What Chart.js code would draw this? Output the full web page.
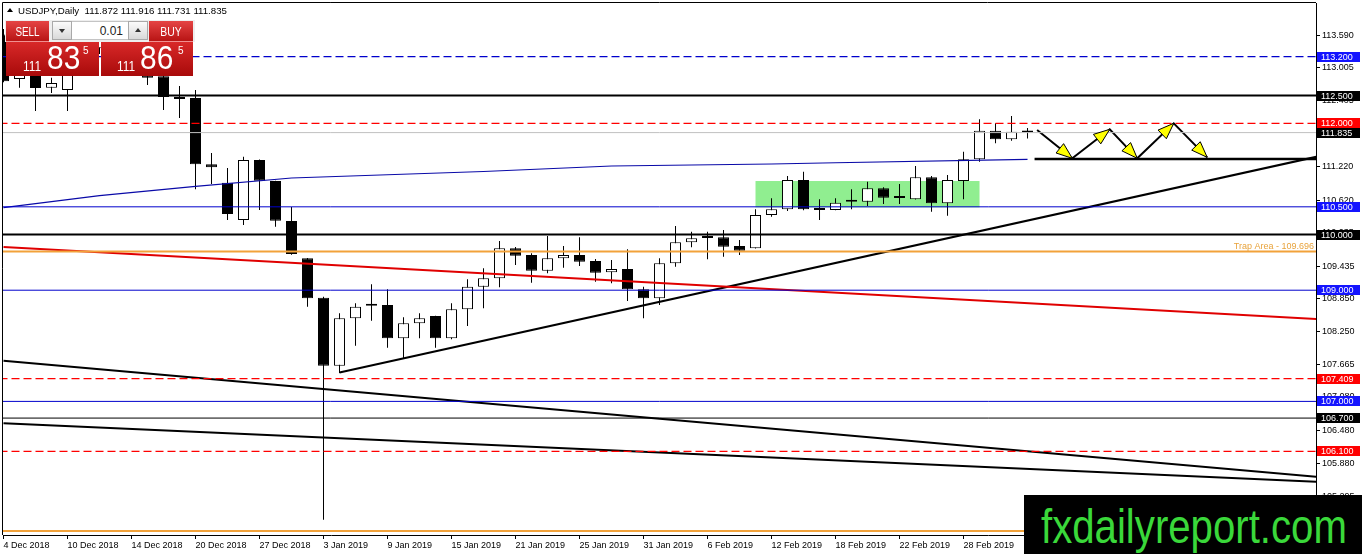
<!DOCTYPE html>
<html>
<head>
<meta charset="utf-8">
<title>USDJPY, Daily</title>
<script src="https://cdn.jsdelivr.net/npm/chart.js@4.4.1/dist/chart.umd.min.js"></script>
<style>
  html, body { margin: 0; padding: 0; background: #fff; }
  #wrap { position: relative; width: 1362px; height: 554px; overflow: hidden; font-family: "Liberation Sans", Arial, sans-serif; }
  #chart { position: absolute; left: 0; top: 0; }
  .box { position: absolute; box-sizing: border-box; }
  .t { position: absolute; line-height: 1; white-space: pre; color: #fff; }
  .red { background: linear-gradient(#e54444, #b81414); }
  .redp { background: linear-gradient(#d82828, #a80a0a); }
  .spin { background: linear-gradient(#fbfbfb, #d9d9d9); border: 1px solid #a9a9a9; }
</style>
</head>
<body>
<div id="wrap">
  <canvas id="chart" width="1362" height="554"></canvas>

  <!-- chart caption -->
  <div class="box" style="left:7px;top:8px;width:0;height:0;border-left:3px solid transparent;border-right:3px solid transparent;border-bottom:4px solid #000"></div>
  <div class="t" id="caption" style="left:18px;top:6px;font-size:9.7px;color:#000"></div>

  <!-- one click trading panel -->
  <div class="box" style="left:5px;top:20px;width:190px;height:22px;background:#eeeeee"></div>
  <div class="box red" style="left:6px;top:21px;width:43px;height:21px;border-bottom:1px solid #f09090"></div>
  <div class="t" style="left:6px;top:25px;width:43px;text-align:center;font-size:13px;transform:scaleX(0.76)">SELL</div>
  <div class="box spin" style="left:52px;top:21px;width:20px;height:19px"></div>
  <div class="box" style="left:59px;top:29px;width:0;height:0;border-left:3px solid transparent;border-right:3px solid transparent;border-top:4px solid #333"></div>
  <div class="box" style="left:72px;top:21px;width:56px;height:19px;background:#fff;border-top:1px solid #c4c4c4;border-bottom:1px solid #c4c4c4"></div>
  <div class="t" style="left:72px;top:25px;width:51px;text-align:right;font-size:12px;color:#222">0.01</div>
  <div class="box spin" style="left:128px;top:21px;width:20px;height:19px"></div>
  <div class="box" style="left:135px;top:28px;width:0;height:0;border-left:3px solid transparent;border-right:3px solid transparent;border-bottom:4px solid #333"></div>
  <div class="box red" style="left:149px;top:21px;width:44px;height:21px;border-bottom:1px solid #f09090"></div>
  <div class="t" style="left:149px;top:25px;width:44px;text-align:center;font-size:13px;transform:scaleX(0.8)">BUY</div>

  <div class="box redp" style="left:6px;top:42px;width:93px;height:34px"></div>
  <div class="t" style="left:23px;top:59px;font-size:14px;transform:scaleX(0.85);transform-origin:left">111</div>
  <div class="t" style="left:47px;top:42px;font-size:32.5px;transform:scaleX(0.92);transform-origin:left">83</div>
  <div class="t" style="left:83px;top:46px;font-size:10px">5</div>
  <div class="box redp" style="left:101px;top:42px;width:92px;height:34px"></div>
  <div class="t" style="left:117px;top:59px;font-size:14px;transform:scaleX(0.85);transform-origin:left">111</div>
  <div class="t" style="left:140px;top:42px;font-size:32.5px;transform:scaleX(0.92);transform-origin:left">86</div>
  <div class="t" style="left:178px;top:46px;font-size:10px">5</div>

  <!-- watermark -->
  <div class="box" style="left:1024px;top:495px;width:338px;height:59px;background:#000"></div>
  <div class="t" style="left:1041px;top:502px;font-size:49px;color:#3ad83a;transform:scaleX(0.82);transform-origin:left">fxdailyreport.com</div>
</div>

<script>
// daily bars, 4 Dec 2018 - 6 Mar 2019
const candleDates = [
  '4 Dec 2018', '5 Dec 2018', '6 Dec 2018', '7 Dec 2018', '10 Dec 2018', '11 Dec 2018', '12 Dec 2018', '13 Dec 2018',
  '14 Dec 2018', '17 Dec 2018', '18 Dec 2018', '19 Dec 2018', '20 Dec 2018', '21 Dec 2018', '24 Dec 2018', '26 Dec 2018',
  '27 Dec 2018', '28 Dec 2018', '31 Dec 2018', '2 Jan 2019', '3 Jan 2019', '4 Jan 2019', '7 Jan 2019', '8 Jan 2019',
  '9 Jan 2019', '10 Jan 2019', '11 Jan 2019', '14 Jan 2019', '15 Jan 2019', '16 Jan 2019', '17 Jan 2019', '18 Jan 2019',
  '21 Jan 2019', '22 Jan 2019', '23 Jan 2019', '24 Jan 2019', '25 Jan 2019', '28 Jan 2019', '29 Jan 2019', '30 Jan 2019',
  '31 Jan 2019', '1 Feb 2019', '4 Feb 2019', '5 Feb 2019', '6 Feb 2019', '7 Feb 2019', '8 Feb 2019', '11 Feb 2019',
  '12 Feb 2019', '13 Feb 2019', '14 Feb 2019', '15 Feb 2019', '18 Feb 2019', '19 Feb 2019', '20 Feb 2019', '21 Feb 2019',
  '22 Feb 2019', '25 Feb 2019', '26 Feb 2019', '27 Feb 2019', '28 Feb 2019', '1 Mar 2019', '4 Mar 2019', '5 Mar 2019',
  '6 Mar 2019'
];

const openP = [
  113.60, 112.80, 113.15, 112.64, 112.60, 113.30, 113.35, 113.55, 113.60, 113.38,
  112.85, 112.475, 112.457, 111.265, 110.934, 110.263, 111.342, 110.964, 110.245, 109.574,
  108.865, 107.642, 108.495, 108.73, 108.734, 108.135, 108.405, 108.536, 108.135, 108.657,
  109.063, 109.214, 109.754, 109.633, 109.351, 109.574, 109.633, 109.525, 109.322, 109.381,
  109.016, 108.854, 109.484, 109.862, 109.95, 109.951, 109.795, 109.754, 110.353, 110.455,
  110.982, 110.466, 110.443, 110.592, 110.592, 110.833, 110.67, 110.635, 111.031, 110.563,
  110.964, 111.354, 111.869, 111.714, 111.872
];
const highP = [
  113.70, 113.30, 113.25, 112.82, 113.40, 113.50, 113.70, 113.70, 113.70, 113.45,
  112.95, 112.673, 112.60, 111.468, 111.198, 111.401, 111.35, 110.97, 110.497, 109.58,
  108.883, 108.585, 108.764, 109.106, 109.016, 108.513, 108.585, 108.54, 108.764, 109.196,
  109.394, 109.885, 109.777, 109.664, 109.975, 109.795, 109.951, 109.561, 109.543, 109.736,
  109.063, 109.574, 110.155, 110.052, 110.052, 110.083, 109.903, 110.455, 110.653, 111.054,
  111.131, 110.635, 110.653, 110.815, 110.951, 110.851, 110.91, 111.234, 111.054, 111.072,
  111.491, 112.074, 112.002, 112.133, 111.916
];
const lowP = [
  112.74, 112.64, 112.223, 112.547, 112.223, 113.00, 113.25, 113.40, 113.30, 112.691,
  112.241, 112.097, 110.815, 110.91, 110.263, 110.173, 110.443, 110.142, 109.64, 108.703,
  104.87, 107.511, 108.002, 108.452, 107.966, 107.775, 108.135, 107.966, 108.117, 108.356,
  108.675, 109.052, 109.453, 109.135, 109.304, 109.405, 109.435, 109.153, 109.124, 108.806,
  108.495, 108.734, 109.423, 109.772, 109.556, 109.603, 109.633, 109.75, 110.322, 110.425,
  110.44, 110.263, 110.44, 110.455, 110.514, 110.55, 110.55, 110.63, 110.412, 110.34,
  110.635, 111.311, 111.642, 111.689, 111.731
];
const closeP = [
  112.76, 113.15, 112.637, 112.727, 113.30, 113.35, 113.55, 113.60, 113.38, 112.82,
  112.475, 112.44, 111.265, 111.21, 110.37, 111.342, 110.97, 110.25, 109.651, 108.854,
  107.642, 108.495, 108.703, 108.72, 108.135, 108.405, 108.495, 108.135, 108.657, 109.063,
  109.214, 109.754, 109.621, 109.351, 109.574, 109.633, 109.513, 109.315, 109.381, 109.016,
  108.854, 109.484, 109.862, 109.934, 109.94, 109.783, 109.71, 110.353, 110.455, 110.982,
  110.455, 110.443, 110.574, 110.623, 110.833, 110.664, 110.66, 111.031, 110.563, 110.982,
  111.354, 111.869, 111.714, 111.851, 111.835
];

// axis ticks
const tickIdx = [0, 4, 8, 12, 16, 20, 24, 28, 32, 36, 40, 44, 48, 52, 56, 60];
const yTicks = [113.590, 113.005, 112.405, 111.820, 111.220, 110.620, 110.035, 109.435,
  108.850, 108.250, 107.665, 107.080, 106.480, 105.880, 105.295];

// horizontal levels and price tags
const levelPrices = [113.2, 112.5, 112.0, 111.835, 110.5, 110.0, 109.696, 109.0, 107.409, 107.0, 106.7, 106.1, 104.67];
const tagPrices = [113.2, 112.5, 112.0, 111.835, 110.5, 110.0, 109.0, 107.409, 107.0, 106.7, 106.1];
const trapLabel = 'Trap Area - 109.696';

// moving average
const maIdx = [0, 6, 12, 18, 30, 38, 48, 52, 64];
const maVal = [110.484, 110.70, 110.869, 111.018, 111.135, 111.234, 111.27, 111.293, 111.354];

// trend lines
const redTrendX = [0, 82.06], redTrendY = [109.777, 108.482];
const upTrendX = [21, 82.06], upTrendY = [107.52, 111.40];
const downAX = [0, 82.06], downAY = [107.732, 105.646];
const downBX = [0, 82.06], downBY = [106.606, 105.556];

// projected path
const zigX = [64.6, 66.8, 69.14, 70.86, 73.14, 75.23];
const zigY = [111.881, 111.372, 111.894, 111.372, 112.002, 111.39];
const baseX = [64.44, 82.06], baseY = [111.36, 111.36];

// consolidation box
const boxX = [47, 61], boxY = [110.49, 110.964];

// ---- styles ----
const RED = '#ff0000', BLUE = '#0000cc', ORANGE = '#f2a23a';
const levelStyle = [
  { color: BLUE, width: 1.2, dash: [8, 4] },
  { color: '#000', width: 2 },
  { color: RED, width: 1.2, dash: [8, 4] },
  { color: '#c0c0c0', width: 1 },
  { color: BLUE, width: 1 },
  { color: '#000', width: 2 },
  { color: ORANGE, width: 2 },
  { color: BLUE, width: 1 },
  { color: RED, width: 1.2, dash: [8, 4] },
  { color: BLUE, width: 1 },
  { color: '#000', width: 1 },
  { color: RED, width: 1.2, dash: [8, 4] },
  { color: ORANGE, width: 2 }
];
const tagColors = ['#1414ff', '#000', '#ff0000', '#000', '#1414ff', '#000', '#1414ff', '#ff0000', '#1414ff', '#000', '#ff0000'];

const last = openP.length - 1;
document.getElementById('caption').textContent = 'USDJPY,Daily  ' +
  [openP[last], highP[last], lowP[last], closeP[last]].map(v => v.toFixed(3)).join(' ');

function lineSet(xs, ys, color, width, dash) {
  return {
    type: 'line',
    data: xs.map((x, i) => ({ x: x, y: ys[i] })),
    borderColor: color,
    borderWidth: width,
    borderDash: dash || [],
    pointRadius: 0,
    tension: 0,
    fill: false,
    clip: 0,
    order: 0
  };
}

const datasets = [];
levelPrices.forEach((p, i) => {
  const s = levelStyle[i];
  datasets.push(lineSet([-1, 83], [p, p], s.color, s.width, s.dash));
});
datasets.push(lineSet(maIdx, maVal, '#0a0aa8', 1.2));
datasets.push(lineSet(redTrendX, redTrendY, '#e00000', 2));
datasets.push(lineSet(upTrendX, upTrendY, '#000', 2));
datasets.push(lineSet(downAX, downAY, '#000', 2));
datasets.push(lineSet(downBX, downBY, '#000', 2));
datasets.push(lineSet(baseX, baseY, '#000', 2.5));
const zigIndex = datasets.length;
datasets.push(lineSet(zigX, zigY, '#000', 2));

// candles: wicks then bodies
datasets.push({
  type: 'bar',
  data: lowP.map((l, i) => ({ x: i, y: [l, highP[i]] })),
  backgroundColor: '#000',
  borderWidth: 0,
  barThickness: 1,
  grouped: false,
  inflateAmount: 0,
  clip: 0,
  order: 2
});
datasets.push({
  type: 'bar',
  data: openP.map((o, i) => ({ x: i, y: [o, closeP[i]] })),
  backgroundColor: ctx => closeP[ctx.dataIndex] > openP[ctx.dataIndex] ? '#fff' : '#000',
  borderColor: '#000',
  borderWidth: 1,
  borderSkipped: false,
  barThickness: 11,
  minBarLength: 2,
  grouped: false,
  inflateAmount: 0,
  clip: 0,
  order: 1
});

const mt4Objects = {
  id: 'mt4Objects',
  beforeDatasetsDraw(chart) {
    const { ctx, scales: { x, y } } = chart;
    ctx.save();
    ctx.fillStyle = '#90ee90';
    const x0 = x.getPixelForValue(boxX[0]), x1 = x.getPixelForValue(boxX[1]);
    const y0 = y.getPixelForValue(boxY[1]), y1 = y.getPixelForValue(boxY[0]);
    ctx.fillRect(x0, y0, x1 - x0, y1 - y0);
    ctx.restore();
  },
  afterDatasetsDraw(chart) {
    const { ctx, chartArea, scales: { y } } = chart;
    // arrow heads on the projected path
    const pts = chart.getDatasetMeta(zigIndex).data;
    ctx.save();
    ctx.fillStyle = '#ffff00';
    ctx.strokeStyle = '#000';
    ctx.lineWidth = 1;
    for (let k = 1; k < pts.length; k++) {
      const a = pts[k - 1], b = pts[k];
      const ang = Math.atan2(b.y - a.y, b.x - a.x);
      const len = 16, half = 6;
      const bx = b.x - len * Math.cos(ang), by = b.y - len * Math.sin(ang);
      ctx.beginPath();
      ctx.moveTo(b.x, b.y);
      ctx.lineTo(bx - half * Math.sin(ang), by + half * Math.cos(ang));
      ctx.lineTo(bx + half * Math.sin(ang), by - half * Math.cos(ang));
      ctx.closePath();
      ctx.fill();
      ctx.stroke();
    }
    // trap area label
    ctx.font = '9px "Liberation Sans", Arial, sans-serif';
    ctx.fillStyle = '#e8a33c';
    ctx.textAlign = 'right';
    ctx.textBaseline = 'alphabetic';
    ctx.fillText(trapLabel, chartArea.right - 2, y.getPixelForValue(109.696) - 2.5);
    ctx.restore();
  },
  afterDraw(chart) {
    const { ctx, chartArea, scales: { y } } = chart;
    ctx.save();
    // frame
    ctx.strokeStyle = '#000';
    ctx.lineWidth = 1;
    ctx.beginPath();
    ctx.moveTo(chartArea.left - 0.5, chartArea.top - 0.5);
    ctx.lineTo(chartArea.right, chartArea.top - 0.5);
    ctx.moveTo(chartArea.left - 0.5, chartArea.top - 0.5);
    ctx.lineTo(chartArea.left - 0.5, chartArea.bottom);
    ctx.stroke();
    // price tags on the axis
    ctx.font = '9px "Liberation Sans", Arial, sans-serif';
    ctx.textAlign = 'left';
    ctx.textBaseline = 'middle';
    tagPrices.forEach((p, i) => {
      const py = Math.round(y.getPixelForValue(p));
      ctx.fillStyle = tagColors[i];
      ctx.fillRect(chartArea.right + 1, py - 5, 43, 10);
      ctx.fillStyle = '#fff';
      ctx.fillText(p.toFixed(3), chartArea.right + 5, py + 0.5);
    });
    ctx.restore();
  }
};

Chart.defaults.font.family = '"Liberation Sans", Arial, sans-serif';
Chart.defaults.font.size = 9;
Chart.defaults.color = '#000';

new Chart(document.getElementById('chart'), {
  type: 'bar',
  data: { datasets: datasets },
  options: {
    responsive: false,
    animation: false,
    layout: { padding: { left: 3, top: 3, right: 0, bottom: 0 } },
    plugins: { legend: { display: false }, tooltip: { enabled: false } },
    scales: {
      x: {
        type: 'linear',
        min: -0.03125,
        max: 82.03,
        offset: false,
        grid: { display: true, drawOnChartArea: false, drawTicks: true, tickLength: 4, color: '#000', offset: false },
        border: { display: true, color: '#000', width: 1 },
        afterBuildTicks: s => { s.ticks = tickIdx.map(v => ({ value: v })); },
        afterFit: s => { s.height = 19; s.paddingLeft = 0; s.paddingRight = 0; },
        ticks: {
          autoSkip: false,
          maxRotation: 0,
          minRotation: 0,
          align: 'start',
          padding: 1,
          color: '#000',
          callback: (v, i) => candleDates[tickIdx[i]]
        }
      },
      y: {
        type: 'linear',
        position: 'right',
        min: 104.597,
        max: 114.166,
        beginAtZero: false,
        grid: { display: true, drawOnChartArea: false, drawTicks: true, tickLength: 4, color: '#000' },
        border: { display: true, color: '#000', width: 1 },
        afterBuildTicks: s => { s.ticks = yTicks.map(v => ({ value: v })); },
        afterFit: s => { s.width = 46; s.paddingTop = 0; s.paddingBottom = 0; },
        ticks: {
          autoSkip: false,
          padding: 2,
          color: '#000',
          callback: v => v.toFixed(3)
        }
      }
    }
  },
  plugins: [mt4Objects]
});
</script>
</body>
</html>
